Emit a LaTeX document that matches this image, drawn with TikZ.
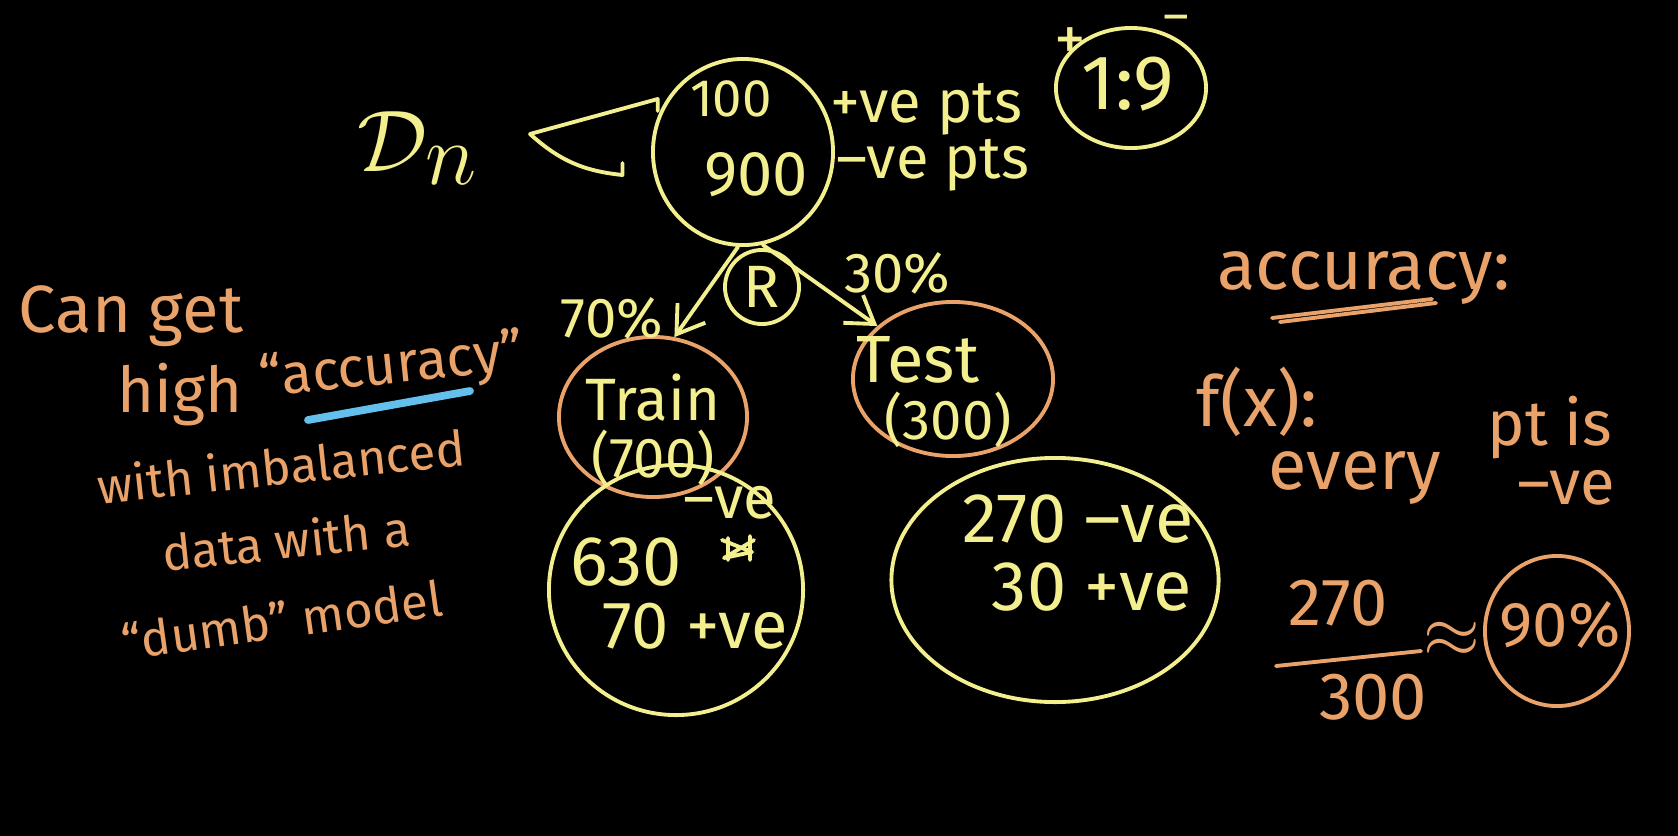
\documentclass[tikz,border=0pt]{standalone}
\usepackage{fontspec}
\setmainfont{Fira Sans}
\usetikzlibrary{arrows.meta,positioning,shapes.geometric}
\definecolor{cChalk}{HTML}{F3EE8E}
\definecolor{cPeach}{HTML}{E9A26A}
\definecolor{cBlue}{HTML}{63BFEC}
\newcommand{\penSize}[1]{\fontsize{#1}{#1}\selectfont}

\begin{document}
\begin{tikzpicture}[x=0.01cm, y=-0.01cm,
    ring/.style={ellipse, draw, line width=1.1pt, inner sep=0pt},
    chalk/.style={text=cChalk, inner sep=1pt},
    peach/.style={text=cPeach, inner sep=1pt},
    pen/.style={line width=1.1pt, line cap=round, line join=round},
    arr/.style={-{Straight Barb[length=2.6mm,width=3.4mm]}, pen, cChalk},
  ]
  \useasboundingbox (0,0) rectangle (1678,836);
  \fill[black] (0,0) rectangle (1678,836);

  % --- full dataset ---
  \node[chalk, font=\penSize{38}] (dn) at (418,148) {$\mathcal{D}_n$};
  \node[ring, cChalk, minimum width=1.80cm, minimum height=1.86cm] (dset) at (743,152) {};
  \node[chalk, font=\penSize{15}] (pos) at (731,99) {100};
  \node[chalk, font=\penSize{18}] (neg) at (756,175) {900};
  \coordinate (brk) at (530,134);
  \draw[pen, cChalk] (brk) -- ([xshift=-8]pos.west) -- ++(0,12);
  \draw[pen, cChalk] (brk) to[bend right=18] ([xshift=-22]neg.west) -- ++(0,-12);
  \node[chalk, font=\penSize{17}, right=5mm of pos, yshift=-1mm] (posl) {+ve pts};
  \node[chalk, font=\penSize{17}, right=2mm of neg, yshift=1mm] (negl) {--ve pts};

  % --- class ratio ---
  \node[ring, cChalk, minimum width=1.50cm, minimum height=1.20cm] (ratio) at (1131,88) {};
  \node[chalk, font=\penSize{22}] (ratiot) at (1128,84) {1:9};
  \node[chalk, font=\penSize{18}] (plus) at (1070,44) {+};
  \node[chalk, font=\penSize{14}, inner sep=0pt] (minus) at (1176,24) {--};

  % --- random split ---
  \node[ring, cChalk, minimum size=0.74cm] (rnd) at (762,287) {};
  \node[chalk, font=\penSize{17}] (rndt) at (rnd) {R};
  \node[ring, cPeach, minimum width=1.88cm, minimum height=1.60cm] (train) at (653,417) {};
  \node[ring, cPeach, minimum width=2.00cm, minimum height=1.54cm] (test) at (953,379) {};
  \draw[arr] (dset.-93) -- (train.75);
  \draw[arr] (dset.-78) -- (test.145);
  \node[chalk, font=\penSize{16}] (pct70) at (612,318) {70\%};
  \node[chalk, font=\penSize{16}] (pct30) at (897,273) {30\%};
  \node[chalk, font=\penSize{17}] (traint) at (653,398) {Train};
  \node[chalk, font=\penSize{16}, below=0mm of traint] (trainn) {(700)};
  \node[chalk, font=\penSize{19}] (testt) at (918,360) {Test};
  \node[chalk, font=\penSize{16}, below=0mm of testt, xshift=3mm] (testn) {(300)};

  % --- class counts per split ---
  \node[ring, cChalk, minimum width=2.54cm, minimum height=2.50cm] (trsplit) at (676,590) {};
  \node[ring, cChalk, minimum width=3.27cm, minimum height=2.44cm] (tesplit) at (1055,580) {};
  \node[chalk, font=\penSize{17}] (trneg) at (730,503) {--ve};
  \node[chalk, font=\penSize{20}] (trnegn) at (626,562) {630};
  \draw[pen, cChalk] (722,540) -- (752,552) -- (724,558) -- (754,540) (728,538) -- (728,560) (750,536) -- (750,560);
  \node[chalk, font=\penSize{19}] (trpos) at (695,626) {70 +ve};
  \node[chalk, font=\penSize{20}] (teneg) at (1078,519) {270 --ve};
  \node[chalk, font=\penSize{20}] (tepos) at (1092,587) {30 +ve};

  % --- left note ---
  \node[peach, font=\penSize{19}] (n1) at (131,316) {Can get};
  \node[peach, font=\penSize{18}] (n2) at (180,395) {high};
  \node[peach, font=\penSize{16}, rotate=6] (n3) at (392,368) {``accuracy''};
  \draw[pen, cBlue, line width=2.2pt] (308,420) -- (470,391);
  \node[peach, font=\penSize{14}, rotate=6] (n4) at (281,466) {with imbalanced};
  \node[peach, font=\penSize{14}, rotate=6] (n5) at (286,540) {data with a};
  \node[peach, font=\penSize{14}, rotate=8] (n6) at (282,620) {``dumb'' model};

  % --- right note ---
  \node[peach, font=\penSize{20}] (acc) at (1364,278) {accuracy:};
  \draw[pen, cPeach] (1272,318) -- (1432,299) (1280,322) -- (1436,303);
  \node[peach, font=\penSize{20}] (fx) at (1257,402) {f(x):};
  \node[peach, font=\penSize{20}] (every) at (1355,478) {every};
  \node[peach, font=\penSize{18}] (ptis) at (1550,428) {pt is};
  \node[peach, font=\penSize{18}] (allneg) at (1566,488) {--ve};
  \node[peach, font=\penSize{19}] (num) at (1338,603) {270};
  \node[peach, font=\penSize{19}] (den) at (1373,697) {300};
  \draw[pen, cPeach] (1276,666) -- (1421,651);
  \node[peach, font=\penSize{20}] (approx) at (1452,640) {$\approx$};
  \node[ring, cPeach, minimum width=1.44cm, minimum height=1.50cm] (accv) at (1557,631) {};
  \node[peach, font=\penSize{18}] (accvt) at (1560,625) {90\%};
\end{tikzpicture}
\end{document}
